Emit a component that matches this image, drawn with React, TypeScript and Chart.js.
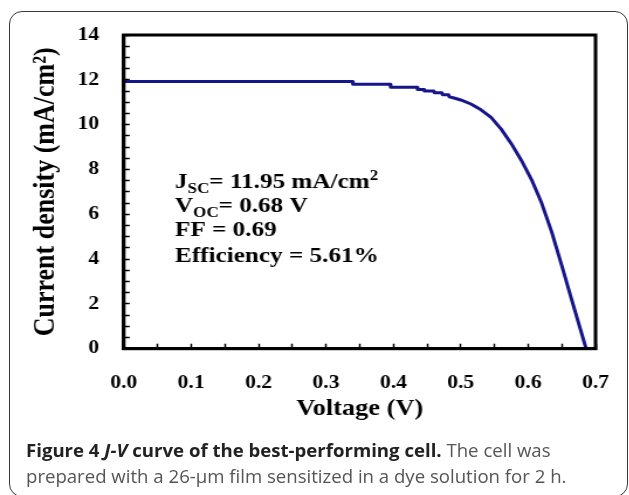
import React, { useEffect, useRef } from "react";
import { Chart, registerables } from "chart.js";

Chart.register(...registerables);

// ---- data ----
const VOLTAGE = [
  0, 0.1, 0.2, 0.3, 0.339, 0.34, 0.395, 0.396, 0.435, 0.436, 0.445, 0.446, 0.46, 0.461,
  0.472, 0.473, 0.482, 0.483, 0.49, 0.5, 0.515, 0.53, 0.545, 0.56, 0.575, 0.59, 0.605,
  0.62, 0.635, 0.65, 0.665, 0.686,
];
const CURRENT = [
  11.93, 11.93, 11.93, 11.93, 11.93, 11.8, 11.8, 11.67, 11.67, 11.57, 11.57, 11.5, 11.5,
  11.42, 11.42, 11.33, 11.33, 11.24, 11.19, 11.1, 10.92, 10.66, 10.32, 9.8, 9.15, 8.4,
  7.55, 6.5, 5.2, 3.7, 2.15, 0,
];
const X_TICK_LABELS = ["0.0", "0.1", "0.2", "0.3", "0.4", "0.5", "0.6", "0.7"];
const Y_TICK_LABELS = ["0", "2", "4", "6", "8", "10", "12", "14"];
const X_TITLE = "Voltage (V)";
const Y_TITLE = "Current density (mA/cm\u00B2)";

type Seg = { text: string; kind: "main" | "sub" | "sup" };
const ANNOTATION_LINES: Seg[][] = [
  [
    { text: "J", kind: "main" },
    { text: "SC", kind: "sub" },
    { text: "= 11.95 mA/cm", kind: "main" },
    { text: "2", kind: "sup" },
  ],
  [
    { text: "V", kind: "main" },
    { text: "OC", kind: "sub" },
    { text: "= 0.68 V", kind: "main" },
  ],
  [{ text: "FF = 0.69", kind: "main" }],
  [{ text: "Efficiency = 5.61%", kind: "main" }],
];

// ---- layout ----
const SX = 1.17; // horizontal stretch of the reference figure
const CANVAS_W = 538;
const CANVAS_H = 440;
const SERIF = '"Liberation Serif", "Times New Roman", serif';

// annotation anchor in data units
const ANNOT_X = 0.076;
const ANNOT_Y = [7.17, 6.1, 5.01, 3.89];
const SEG_STYLE = {
  main: { size: 21.5, dy: 0 },
  sub: { size: 14.5, dy: 5 },
  sup: { size: 14.5, dy: -8 },
};

const framePlugin = {
  id: "frame",
  afterDraw(chart: any) {
    const { ctx, chartArea } = chart;
    ctx.save();
    ctx.strokeStyle = "#000";
    ctx.lineWidth = 3;
    ctx.strokeRect(
      chartArea.left,
      chartArea.top,
      chartArea.right - chartArea.left,
      chartArea.bottom - chartArea.top
    );
    ctx.restore();
  },
};

const annotationPlugin = {
  id: "jvAnnotation",
  afterDatasetsDraw(chart: any) {
    const { ctx, scales } = chart;
    const x0 = scales.x.getPixelForValue(ANNOT_X);
    ctx.save();
    ctx.fillStyle = "#000";
    ctx.textBaseline = "alphabetic";
    ctx.textAlign = "left";
    ANNOTATION_LINES.forEach((segs, i) => {
      const y = scales.y.getPixelForValue(ANNOT_Y[i]);
      let x = x0;
      segs.forEach((seg) => {
        const st = SEG_STYLE[seg.kind];
        ctx.font = `bold ${st.size}px ${SERIF}`;
        ctx.fillText(seg.text, x, y + st.dy);
        x += ctx.measureText(seg.text).width;
      });
    });
    ctx.restore();
  },
};

function JVChart() {
  const ref = useRef<HTMLCanvasElement | null>(null);

  useEffect(() => {
    if (!ref.current) return;
    const points = VOLTAGE.map((v, i) => ({ x: v, y: CURRENT[i] }));
    const chart = new Chart(ref.current, {
      type: "line",
      data: {
        datasets: [
          {
            data: points,
            borderColor: "#16168a",
            borderWidth: 3,
            borderJoinStyle: "round",
            pointRadius: 0,
            tension: 0,
            fill: false,
          },
        ],
      },
      options: {
        animation: false,
        responsive: false,
        maintainAspectRatio: false,
        devicePixelRatio: 1,
        layout: { padding: { top: 35, right: 29, left: 0, bottom: 0 } },
        plugins: { legend: { display: false }, tooltip: { enabled: false } },
        scales: {
          x: {
            type: "linear",
            min: 0,
            max: 0.7,
            afterFit: (scale: any) => {
              scale.height = 91.3;
              scale.paddingLeft = 0;
              scale.paddingRight = 0;
            },
            border: { display: true, color: "#000", width: 3 },
            grid: {
              drawOnChartArea: false,
              drawTicks: true,
              tickLength: -5,
              tickColor: "#000",
              tickWidth: 1.5,
            },
            ticks: {
              stepSize: 0.05,
              autoSkip: false,
              maxRotation: 0,
              padding: 28,
              color: "#000",
              font: { family: SERIF, size: 18.5, weight: "bold" },
              callback: (value: any) => {
                const k = Number(value) * 10;
                const r = Math.round(k);
                return Math.abs(k - r) < 1e-6 ? X_TICK_LABELS[r] : "";
              },
            },
            title: {
              display: true,
              text: X_TITLE,
              color: "#000",
              font: { family: SERIF, size: 22.5, weight: "bold" },
              padding: { top: 0, bottom: 17.3 },
            },
          },
          y: {
            type: "linear",
            min: 0,
            max: 14,
            afterFit: (scale: any) => {
              scale.width = 105.8;
              scale.paddingTop = 0;
              scale.paddingBottom = 0;
            },
            border: { display: true, color: "#000", width: 3 },
            grid: {
              drawOnChartArea: false,
              drawTicks: true,
              tickLength: -5,
              tickColor: "#000",
              tickWidth: 1.5,
            },
            ticks: {
              stepSize: 0.5,
              autoSkip: false,
              padding: 26,
              color: "#000",
              font: { family: SERIF, size: 18.5, weight: "bold" },
              callback: (value: any) => {
                const v = Number(value);
                const r = Math.round(v);
                return Math.abs(v - r) < 1e-6 && r % 2 === 0 ? Y_TICK_LABELS[r / 2] : "";
              },
            },
            title: {
              display: true,
              text: Y_TITLE,
              color: "#000",
              font: { family: SERIF, size: 26, weight: "bold" },
              padding: { top: 23.3, bottom: 0 },
            },
          },
        },
      },
      plugins: [annotationPlugin, framePlugin],
    } as any);
    return () => chart.destroy();
  }, []);

  return (
    <div
      style={{
        position: "absolute",
        left: 0,
        top: 0,
        width: CANVAS_W,
        height: CANVAS_H,
        transform: `scaleX(${SX})`,
        transformOrigin: "0 0",
      }}
    >
      <canvas ref={ref} width={CANVAS_W} height={CANVAS_H} style={{ display: "block" }} />
    </div>
  );
}

export default function App() {
  return (
    <div
      style={{
        position: "absolute",
        left: 0,
        top: 0,
        width: 629,
        height: 495,
        overflow: "hidden",
        background: "#fff",
      }}
    >
      <div
        style={{
          position: "absolute",
          left: 9,
          top: 11,
          width: 619,
          height: 486,
          border: "1.5px solid #3a3a3a",
          borderRadius: 13,
          boxSizing: "border-box",
        }}
      />
      <JVChart />
      <div
        style={{
          position: "absolute",
          left: 26,
          top: 437,
          fontFamily: '"Open Sans", sans-serif',
          fontSize: 18.6,
          lineHeight: "26px",
          whiteSpace: "nowrap",
          color: "#555",
        }}
      >
        <span style={{ fontWeight: 700, color: "#222" }}>
          Figure 4 <i>J-V</i> curve of the best-performing cell.
        </span>{" "}
        The cell was
        <br />
        prepared with a 26-μm film sensitized in a dye solution for 2 h.
      </div>
    </div>
  );
}
